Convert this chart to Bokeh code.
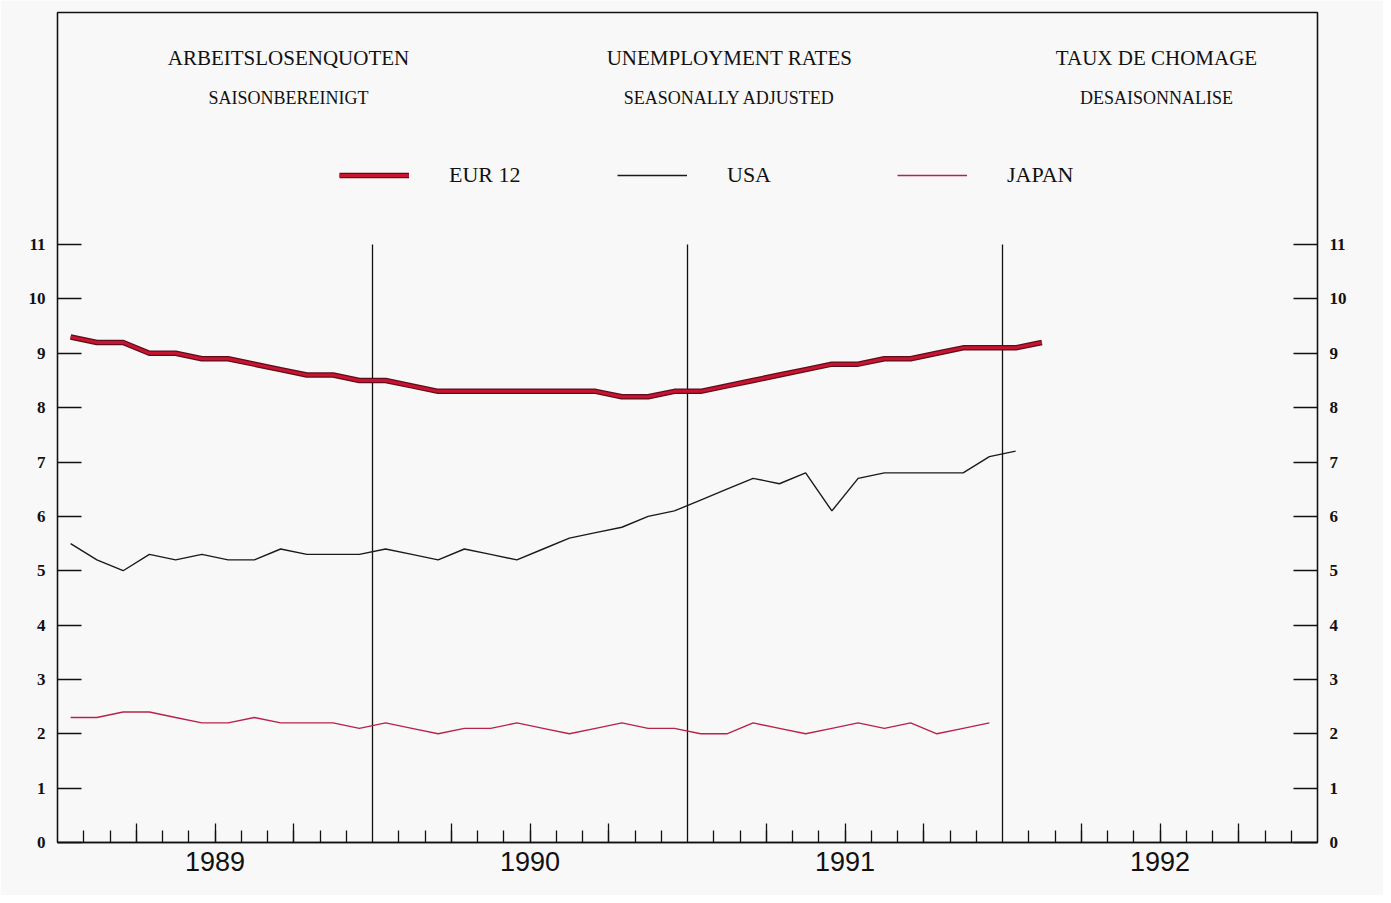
from bokeh.plotting import figure
from bokeh.models import (LinearAxis, FixedTicker, Range1d, Label, Legend, LegendItem)
from bokeh.embed import file_html
from bokeh.resources import INLINE
import numpy as np

# ---------------- data (monthly, starting January 1989) ----------------
start_year = 1989
year_labels = ["1989", "1990", "1991", "1992"]
y_ticks = list(range(0, 12))

eur12 = [9.3, 9.2, 9.2, 9.0, 9.0, 8.9, 8.9, 8.8, 8.7, 8.6, 8.6, 8.5,
         8.5, 8.4, 8.3, 8.3, 8.3, 8.3, 8.3, 8.3, 8.3, 8.2, 8.2, 8.3,
         8.3, 8.4, 8.5, 8.6, 8.7, 8.8, 8.8, 8.9, 8.9, 9.0, 9.1, 9.1,
         9.1, 9.2]
usa = [5.5, 5.2, 5.0, 5.3, 5.2, 5.3, 5.2, 5.2, 5.4, 5.3, 5.3, 5.3,
       5.4, 5.3, 5.2, 5.4, 5.3, 5.2, 5.4, 5.6, 5.7, 5.8, 6.0, 6.1,
       6.3, 6.5, 6.7, 6.6, 6.8, 6.1, 6.7, 6.8, 6.8, 6.8, 6.8, 7.1,
       7.2]
japan = [2.3, 2.3, 2.4, 2.4, 2.3, 2.2, 2.2, 2.3, 2.2, 2.2, 2.2, 2.1,
         2.2, 2.1, 2.0, 2.1, 2.1, 2.2, 2.1, 2.0, 2.1, 2.2, 2.1, 2.1,
         2.0, 2.0, 2.2, 2.1, 2.0, 2.1, 2.2, 2.1, 2.2, 2.0, 2.1, 2.2]

titles_de = ["ARBEITSLOSENQUOTEN", "SAISONBEREINIGT"]
titles_en = ["UNEMPLOYMENT RATES", "SEASONALLY ADJUSTED"]
titles_fr = ["TAUX DE CHOMAGE", "DESAISONNALISE"]
series_names = ["EUR 12", "USA", "JAPAN"]

# ---------------- figure ----------------
n_months = 12 * len(year_labels)
BG = "#f8f8f8"
p = figure(width=1383, height=895, output_backend="svg", toolbar_location=None,
           x_range=Range1d(0, n_months), y_range=Range1d(0, 15.27),
           x_axis_location=None, y_axis_location=None,
           min_border_left=57, min_border_right=66, min_border_top=12,
           min_border_bottom=53)
p.background_fill_color = BG
p.border_fill_color = BG
p.outline_line_color = "#111111"
p.outline_line_width = 1.3
p.grid.visible = False

# axes
def yaxis():
    ax = LinearAxis(ticker=FixedTicker(ticks=y_ticks, minor_ticks=[]))
    ax.major_tick_in = 24
    ax.major_tick_out = 0
    ax.minor_tick_in = 0
    ax.minor_tick_out = 0
    ax.major_tick_line_color = "#111111"
    ax.major_tick_line_width = 1.3
    ax.axis_line_color = "#111111"
    ax.axis_line_width = 1.3
    ax.major_label_standoff = 12
    ax.major_label_text_font = "Liberation Serif"
    ax.major_label_text_font_size = "17px"
    ax.major_label_text_font_style = "bold"
    ax.major_label_text_color = "#111111"
    return ax

p.add_layout(yaxis(), "left")
p.add_layout(yaxis(), "right")

quarter_ticks = [m for m in range(3, n_months, 3) if m % 12 != 0]
month_ticks = [m for m in range(1, n_months) if m % 12 != 0]
overrides = {m: "" for m in quarter_ticks}
for i, lab in enumerate(year_labels):
    overrides[12 * i + 6] = lab

xax = LinearAxis(ticker=FixedTicker(ticks=quarter_ticks, minor_ticks=month_ticks))
xax.major_tick_in = 19
xax.major_tick_out = 0
xax.minor_tick_in = 12
xax.minor_tick_out = 0
xax.major_tick_line_color = "#111111"
xax.minor_tick_line_color = "#111111"
xax.major_tick_line_width = 1.3
xax.minor_tick_line_width = 1.3
xax.axis_line_color = "#111111"
xax.axis_line_width = 1.3
xax.major_label_overrides = overrides
xax.major_label_standoff = 9
xax.major_label_text_font = "Liberation Sans"
xax.major_label_text_font_size = "27px"
xax.major_label_text_color = "#111111"
p.add_layout(xax, "below")

# year separators
year_bounds = [12 * i for i in range(1, len(year_labels))]
p.segment(x0=year_bounds, y0=[0] * len(year_bounds), x1=year_bounds,
          y1=[y_ticks[-1]] * len(year_bounds), line_color="#111111", line_width=1.3)

# series
x_eur = np.arange(len(eur12)) + 0.5
x_usa = np.arange(len(usa)) + 0.5
x_jap = np.arange(len(japan)) + 0.5

r_eur_a = p.line(x_eur, eur12, line_color="#5e0c1e", line_width=5.5, line_join="round")
r_eur_b = p.line(x_eur, eur12, line_color="#c8142e", line_width=3, line_join="round")
r_usa = p.line(x_usa, usa, line_color="#1a1a1a", line_width=1.4)
r_jap = p.line(x_jap, japan, line_color="#b8224a", line_width=1.4)

# legends (one per item, placed like the original row)
def add_legend(label, renderers, x, y):
    lg = Legend(items=[LegendItem(label=label, renderers=renderers)],
                location=(x, y), orientation="horizontal",
                glyph_width=70, glyph_height=24, label_standoff=40,
                padding=0, margin=0, spacing=0,
                border_line_alpha=0, background_fill_alpha=0,
                label_text_font="Liberation Serif", label_text_font_size="22px",
                label_text_color="#111111", label_height=24)
    p.add_layout(lg, "center")

add_legend(series_names[0], [r_eur_a, r_eur_b], 282, 654)
add_legend(series_names[1], [r_usa], 560, 654)
add_legend(series_names[2], [r_jap], 840, 654)

# titles
for texts, cx in [(titles_de, 231), (titles_en, 672), (titles_fr, 1099)]:
    p.add_layout(Label(x=cx, y=785, x_units="screen", y_units="screen", text=texts[0],
                       text_align="center", text_baseline="middle",
                       text_font="Liberation Serif", text_font_size="21px",
                       text_color="#111111"))
    p.add_layout(Label(x=cx, y=745, x_units="screen", y_units="screen", text=texts[1],
                       text_align="center", text_baseline="middle",
                       text_font="Liberation Serif", text_font_size="18px",
                       text_color="#111111"))

open("out.html", "w").write(file_html(p, INLINE))
